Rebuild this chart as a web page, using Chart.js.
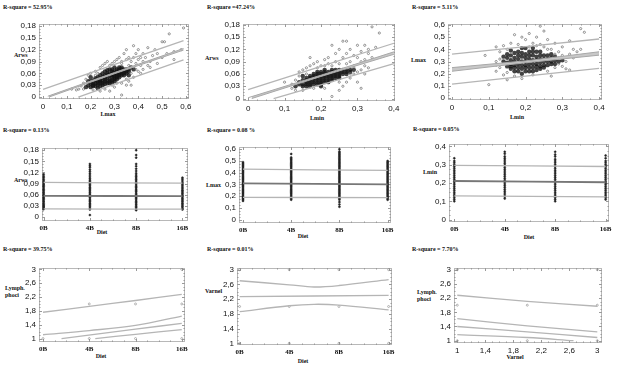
<!DOCTYPE html>
<html>
<head>
<meta charset="utf-8">
<script src="https://cdn.jsdelivr.net/npm/chart.js@4.4.1/dist/chart.umd.min.js"></script>
<style>
  body { margin: 0; background: #fff; width: 628px; height: 374px; position: relative; overflow: hidden; }
  canvas { position: absolute; }
  .t { position: absolute; font: bold 6px "Liberation Serif", serif; color: #111; white-space: nowrap; line-height: 7px; }
  .c { transform: translateX(-50%); }
</style>
</head>
<body>
<div class="t" style="left:3px;top:4px">R-square = 52.95%</div>
<div class="t" style="left:207px;top:4px">R-square =47.24%</div>
<div class="t" style="left:412px;top:4px">R-square = 5.11%</div>
<div class="t" style="left:3px;top:127px">R-square = 0.13%</div>
<div class="t" style="left:207px;top:127px">R-square = 0.08 %</div>
<div class="t" style="left:413px;top:126px">R-square = 0.05%</div>
<div class="t" style="left:3px;top:246px">R-square = 39.75%</div>
<div class="t" style="left:207px;top:246px">R-square = 0.01%</div>
<div class="t" style="left:412px;top:246px">R-square = 7.70%</div>

<div class="t" style="left:14px;top:52px">Arws</div>
<div class="t" style="left:205px;top:55px">Arws</div>
<div class="t" style="left:411px;top:57px">Lmax</div>
<div class="t" style="left:14px;top:177px">Arws</div>
<div class="t" style="left:206px;top:182px">Lmax</div>
<div class="t" style="left:423px;top:169px">Lmin</div>
<div class="t" style="left:5px;top:285px">Lymph.<br>phoci</div>
<div class="t" style="left:205px;top:288px">Varnel</div>
<div class="t" style="left:417px;top:289px">Lymph.<br>phoci</div>

<div class="t c" style="left:108px;top:111px">Lmax</div>
<div class="t c" style="left:317px;top:115px">Lmin</div>
<div class="t c" style="left:517px;top:114px">Lmin</div>
<div class="t c" style="left:102px;top:229px">Diet</div>
<div class="t c" style="left:303px;top:233px">Diet</div>
<div class="t c" style="left:529px;top:234px">Diet</div>
<div class="t c" style="left:101px;top:353px">Diet</div>
<div class="t c" style="left:303px;top:358px">Diet</div>
<div class="t c" style="left:515px;top:354px">Varnel</div>

<script>
// ---- data ----
const diets = ['0B', '4B', '8B', '16B'];

// Arws vs Lmax
const p1Core = [[0.19,0.03],[0.2,0.035],[0.21,0.028],[0.21,0.042],[0.22,0.035],[0.22,0.048],[0.23,0.03],[0.23,0.04],[0.24,0.045],[0.24,0.036],[0.25,0.05],[0.25,0.04],[0.25,0.03],[0.26,0.045],[0.26,0.055],[0.27,0.04],[0.27,0.05],[0.27,0.06],[0.28,0.045],[0.28,0.055],[0.28,0.035],[0.29,0.05],[0.29,0.06],[0.29,0.042],[0.3,0.055],[0.3,0.065],[0.3,0.045],[0.31,0.05],[0.31,0.06],[0.31,0.07],[0.32,0.055],[0.32,0.065],[0.33,0.06],[0.33,0.07],[0.34,0.065],[0.34,0.055],[0.35,0.07],[0.36,0.065],[0.2,0.025],[0.23,0.022],[0.26,0.033],[0.24,0.055],[0.27,0.068],[0.29,0.07],[0.32,0.075],
  [0.18,0.025],[0.19,0.04],[0.2,0.05],[0.21,0.035],[0.22,0.028],[0.22,0.042],[0.23,0.05],[0.24,0.028],[0.24,0.04],[0.25,0.035],[0.25,0.06],[0.26,0.04],[0.26,0.05],[0.26,0.065],[0.27,0.035],[0.27,0.055],[0.28,0.04],[0.28,0.06],[0.28,0.07],[0.29,0.037],[0.29,0.055],[0.29,0.065],[0.3,0.04],[0.3,0.05],[0.3,0.06],[0.3,0.075],[0.31,0.045],[0.31,0.055],[0.31,0.065],[0.32,0.05],[0.32,0.06],[0.32,0.07],[0.33,0.055],[0.33,0.065],[0.33,0.075],[0.34,0.06],[0.34,0.07],[0.35,0.06],[0.35,0.065],[0.36,0.07],[0.37,0.075],[0.38,0.07],[0.36,0.055],[0.23,0.035],[0.21,0.03],[0.2,0.04]];
const p1Out = [[0.15,0.02],[0.16,0.028],[0.17,0.035],[0.18,0.045],[0.17,0.02],[0.14,0.018],[0.12,0.02],[0.19,0.055],[0.2,0.06],[0.22,0.065],[0.21,0.018],[0.24,0.075],[0.25,0.08],[0.26,0.085],[0.27,0.09],[0.28,0.08],[0.3,0.09],[0.31,0.095],[0.32,0.1],[0.33,0.085],[0.34,0.11],[0.35,0.12],[0.36,0.1],[0.37,0.09],[0.38,0.13],[0.38,0.1],[0.39,0.085],[0.4,0.095],[0.4,0.12],[0.41,0.08],[0.42,0.11],[0.43,0.1],[0.44,0.125],[0.45,0.09],[0.46,0.105],[0.47,0.12],[0.48,0.085],[0.5,0.14],[0.5,0.1],[0.51,0.14],[0.53,0.16],[0.55,0.115],[0.55,0.095],[0.58,0.12],[0.59,0.175],[0.33,0.005],[0.37,0.03],[0.36,0.04],[0.38,0.05],[0.4,0.065],[0.42,0.07],[0.44,0.08],[0.35,0.045],[0.39,0.07],[0.41,0.06],[0.45,0.075],[0.37,0.06],[0.36,0.08],[0.38,0.075],[0.42,0.09],[0.3,0.025],[0.33,0.035],[0.29,0.03],[0.35,0.03],[0.28,0.015],[0.26,0.02],[0.24,0.015],[0.31,0.035],[0.2,0.045],[0.22,0.055],[0.23,0.06],[0.33,0.09],[0.29,0.085],[0.35,0.095],[0.39,0.11],[0.41,0.1],[0.48,0.11],[0.52,0.11]];
const p1PredHi = [[0,0.0195],[0.59,0.143]];
const p1ConfHi = [[0.02,0.002],[0.3,0.062],[0.59,0.123]];
const p1ConfLo = [[0.025,0],[0.3,0.059],[0.59,0.119]];
const p1PredLo = [[0.148,0],[0.59,0.094]];

// Arws vs Lmin
const p2Core = [[0.14,0.035],[0.15,0.03],[0.15,0.045],[0.16,0.04],[0.16,0.05],[0.17,0.035],[0.17,0.045],[0.18,0.04],[0.18,0.05],[0.18,0.06],[0.19,0.045],[0.19,0.055],[0.19,0.035],[0.2,0.05],[0.2,0.06],[0.2,0.04],[0.21,0.045],[0.21,0.055],[0.21,0.065],[0.22,0.05],[0.22,0.06],[0.23,0.055],[0.23,0.065],[0.23,0.045],[0.24,0.06],[0.24,0.07],[0.25,0.055],[0.25,0.065],[0.26,0.06],[0.26,0.07],[0.17,0.055],[0.16,0.03],[0.19,0.065],[0.22,0.04],[0.2,0.03],[0.27,0.065],[0.28,0.07],[0.15,0.055],[0.24,0.05],
  [0.13,0.03],[0.14,0.04],[0.15,0.035],[0.16,0.045],[0.17,0.04],[0.17,0.05],[0.18,0.035],[0.18,0.045],[0.18,0.055],[0.19,0.04],[0.19,0.05],[0.19,0.06],[0.2,0.035],[0.2,0.045],[0.2,0.055],[0.2,0.065],[0.21,0.04],[0.21,0.05],[0.21,0.06],[0.21,0.07],[0.22,0.045],[0.22,0.055],[0.22,0.065],[0.23,0.05],[0.23,0.06],[0.23,0.07],[0.24,0.055],[0.24,0.065],[0.25,0.05],[0.25,0.06],[0.25,0.07],[0.26,0.065],[0.27,0.06],[0.27,0.07],[0.28,0.065],[0.29,0.07],[0.16,0.035],[0.17,0.03]];
const p2Out = [[0.1,0.04],[0.12,0.025],[0.12,0.035],[0.13,0.045],[0.13,0.02],[0.14,0.055],[0.14,0.065],[0.15,0.07],[0.16,0.075],[0.17,0.1],[0.17,0.08],[0.18,0.085],[0.19,0.09],[0.2,0.08],[0.21,0.095],[0.22,0.1],[0.22,0.085],[0.23,0.13],[0.24,0.09],[0.24,0.11],[0.25,0.12],[0.25,0.085],[0.26,0.14],[0.26,0.1],[0.27,0.11],[0.27,0.14],[0.28,0.09],[0.28,0.12],[0.29,0.105],[0.29,0.08],[0.3,0.1],[0.3,0.13],[0.31,0.115],[0.31,0.09],[0.32,0.095],[0.32,0.13],[0.33,0.11],[0.33,0.12],[0.34,0.175],[0.35,0.125],[0.36,0.16],[0.34,0.1],[0.23,0.005],[0.25,0.02],[0.27,0.04],[0.28,0.05],[0.29,0.06],[0.3,0.065],[0.3,0.04],[0.31,0.025],[0.26,0.03],[0.27,0.085],[0.29,0.075],[0.31,0.07],[0.32,0.08],[0.33,0.075],[0.21,0.025],[0.18,0.025],[0.16,0.06],[0.19,0.075],[0.21,0.08],[0.23,0.08],[0.25,0.04],[0.28,0.06],[0.32,0.06],[0.15,0.02]];
const p2PredHi = [[0,0.022],[0.4,0.135]];
const p2ConfHi = [[0,0.002],[0.2,0.057],[0.4,0.114]];
const p2ConfLo = [[0.01,0],[0.2,0.054],[0.4,0.108]];
const p2PredLo = [[0.07,0],[0.4,0.085]];

// Lmax vs Lmin
const p3Core = [[0.14,0.3],[0.15,0.26],[0.15,0.33],[0.16,0.28],[0.16,0.35],[0.17,0.22],[0.17,0.3],[0.18,0.25],[0.18,0.32],[0.18,0.38],[0.19,0.27],[0.19,0.34],[0.2,0.22],[0.2,0.3],[0.2,0.36],[0.21,0.25],[0.21,0.32],[0.22,0.28],[0.22,0.35],[0.22,0.22],[0.23,0.26],[0.23,0.31],[0.24,0.29],[0.24,0.35],[0.25,0.27],[0.25,0.32],[0.26,0.3],[0.26,0.35],[0.27,0.28],[0.27,0.33],[0.16,0.24],[0.19,0.2],[0.21,0.38],[0.23,0.38],[0.28,0.31],[0.24,0.24],[0.17,0.37],[0.14,0.34],[0.2,0.41],
  [0.15,0.29],[0.15,0.36],[0.16,0.31],[0.16,0.26],[0.17,0.27],[0.17,0.33],[0.17,0.25],[0.18,0.28],[0.18,0.35],[0.18,0.22],[0.19,0.24],[0.19,0.3],[0.19,0.37],[0.2,0.25],[0.2,0.27],[0.2,0.33],[0.21,0.22],[0.21,0.28],[0.21,0.35],[0.22,0.25],[0.22,0.31],[0.22,0.38],[0.23,0.23],[0.23,0.28],[0.23,0.34],[0.24,0.26],[0.24,0.32],[0.24,0.38],[0.25,0.25],[0.25,0.3],[0.25,0.35],[0.26,0.27],[0.26,0.32],[0.27,0.3],[0.27,0.36],[0.28,0.28],[0.28,0.34],[0.29,0.3],[0.3,0.31],[0.16,0.39],[0.19,0.41],[0.22,0.41]];
const p3Out = [[0.1,0.11],[0.09,0.35],[0.12,0.22],[0.12,0.3],[0.12,0.42],[0.13,0.25],[0.13,0.38],[0.14,0.43],[0.14,0.19],[0.15,0.4],[0.15,0.15],[0.16,0.45],[0.17,0.52],[0.17,0.18],[0.18,0.44],[0.19,0.5],[0.19,0.16],[0.2,0.48],[0.21,0.42],[0.21,0.53],[0.22,0.45],[0.22,0.19],[0.23,0.5],[0.24,0.59],[0.24,0.44],[0.25,0.55],[0.25,0.42],[0.26,0.48],[0.26,0.22],[0.27,0.18],[0.27,0.4],[0.28,0.45],[0.28,0.25],[0.29,0.38],[0.29,0.28],[0.3,0.35],[0.3,0.42],[0.31,0.24],[0.32,0.23],[0.32,0.47],[0.33,0.33],[0.34,0.38],[0.35,0.4],[0.36,0.54],[0.35,0.57],[0.31,0.3],[0.3,0.26],[0.29,0.33],[0.28,0.36],[0.32,0.36],[0.33,0.4],[0.26,0.4],[0.23,0.43],[0.13,0.32],[0.12,0.27],[0.15,0.21]];
const p3PredHi = [[0,0.36],[0.4,0.485]];
const p3ConfHi = [[0,0.25],[0.2,0.305],[0.4,0.38]];
const p3ConfLo = [[0,0.22],[0.2,0.29],[0.4,0.352]];
const p3PredLo = [[0,0.115],[0.4,0.244]];

// Arws by diet
const p4Cols = [
  [0.021,0.024,0.027,0.03,0.033,0.036,0.04,0.043,0.047,0.05,0.053,0.057,0.06,0.064,0.067,0.071,0.074,0.078,0.082,0.085,0.089,0.093,0.097,0.101,0.106,0.11,0.115],
  [0.005,0.02,0.023,0.027,0.03,0.034,0.037,0.041,0.044,0.048,0.052,0.055,0.059,0.062,0.066,0.07,0.073,0.077,0.08,0.084,0.088,0.091,0.095,0.099,0.103,0.108,0.113,0.118,0.123,0.128,0.134,0.138,0.143],
  [0.018,0.021,0.025,0.028,0.032,0.035,0.039,0.042,0.046,0.05,0.053,0.057,0.06,0.064,0.068,0.071,0.075,0.079,0.082,0.086,0.09,0.093,0.097,0.101,0.105,0.109,0.113,0.118,0.124,0.13,0.137,0.143,0.16,0.167,0.18],
  [0.02,0.023,0.027,0.03,0.034,0.037,0.041,0.044,0.048,0.051,0.055,0.058,0.062,0.065,0.069,0.072,0.076,0.08,0.084,0.088,0.092,0.097,0.102,0.106]
];
const p4Mean = [[0,0.057],[3,0.056]];
const p4Hi = [[0,0.093],[3,0.091]];
const p4Lo = [[0,0.0215],[3,0.021]];

// Lmax by diet
const p5Cols = [
  [0.16,0.17,0.18,0.19,0.2,0.21,0.22,0.23,0.24,0.25,0.26,0.27,0.28,0.29,0.3,0.31,0.32,0.33,0.34,0.35,0.36,0.37,0.38,0.39,0.4,0.41,0.42,0.43,0.44,0.45,0.46,0.47,0.48,0.49],
  [0.17,0.18,0.19,0.2,0.21,0.22,0.23,0.24,0.25,0.26,0.27,0.28,0.29,0.3,0.31,0.32,0.33,0.34,0.35,0.36,0.37,0.38,0.39,0.4,0.41,0.42,0.43,0.44,0.45,0.46,0.47,0.48,0.49,0.5,0.51,0.52,0.53,0.56],
  [0.11,0.13,0.15,0.17,0.18,0.19,0.2,0.21,0.22,0.23,0.24,0.25,0.26,0.27,0.28,0.29,0.3,0.31,0.32,0.33,0.34,0.35,0.36,0.37,0.38,0.39,0.4,0.41,0.42,0.43,0.44,0.45,0.46,0.47,0.48,0.49,0.5,0.51,0.52,0.53,0.54,0.55,0.56,0.57,0.58,0.6],
  [0.17,0.18,0.19,0.2,0.21,0.22,0.23,0.24,0.25,0.26,0.27,0.28,0.29,0.3,0.31,0.32,0.33,0.34,0.35,0.36,0.37,0.38,0.39,0.4,0.41,0.42,0.43,0.44,0.45,0.46,0.47,0.48,0.49,0.5]
];
const p5Mean = [[0,0.31],[3,0.30]];
const p5Hi = [[0,0.43],[3,0.42]];
const p5Lo = [[0,0.19],[3,0.188]];

// Lmin by diet
const p6Cols = [
  [0.1,0.11,0.12,0.13,0.14,0.15,0.16,0.17,0.18,0.19,0.2,0.21,0.22,0.23,0.24,0.25,0.26,0.27,0.28,0.29,0.3,0.31,0.32,0.335],
  [0.115,0.125,0.135,0.145,0.155,0.165,0.175,0.185,0.195,0.205,0.215,0.225,0.235,0.245,0.255,0.265,0.275,0.285,0.295,0.305,0.315,0.325,0.335,0.345,0.36,0.37],
  [0.1,0.11,0.12,0.13,0.14,0.15,0.16,0.17,0.18,0.19,0.2,0.21,0.22,0.23,0.24,0.25,0.26,0.27,0.28,0.29,0.3,0.31,0.32,0.33,0.345,0.355,0.37],
  [0.11,0.12,0.13,0.14,0.15,0.16,0.17,0.18,0.19,0.2,0.21,0.22,0.23,0.24,0.25,0.26,0.27,0.28,0.29,0.3,0.31,0.32,0.335,0.35]
];
const p6Mean = [[0,0.211],[3,0.204]];
const p6Hi = [[0,0.296],[3,0.29]];
const p6Lo = [[0,0.13],[3,0.124]];

// Lymphoci by diet
const p7Pts = [[0,1],[1,1],[1,2],[2,1],[2,2],[3,1],[3,2],[3,3]];
const p7PredHi = [[0,1.76],[1,1.93],[2,2.1],[3,2.28]];
const p7ConfHi = [[0,1.11],[1,1.23],[2,1.38],[3,1.65]];
const p7Fit = [[0.4,1.0],[2,1.27],[3,1.44]];
const p7ConfLo = [[1.13,1.0],[2,1.12],[3,1.26]];

// Varnel by diet
const p8Pts = [[0,1],[1,1],[2,1],[3,1],[0,2],[1,2],[2,2],[3,2],[0,3],[1,3],[2,3],[3,3]];
const p8Hi = [[0,2.7],[1,2.59],[1.5,2.53],[2,2.57],[3,2.73]];
const p8Fit = [[0,2.27],[3,2.3]];
const p8Lo = [[0,1.86],[1,2.02],[1.5,2.06],[2,2.04],[3,1.91]];

// Lymphoci vs Varnel
const p9Pts = [[1,1],[2,1],[3,1],[1,2],[2,2],[3,2],[1,3],[3,3]];
const p9PredHi = [[1,2.28],[2,2.11],[3,1.97]];
const p9ConfHi = [[1,1.62],[2,1.42],[3,1.25]];
const p9Fit = [[1,1.4],[2,1.25],[3,1.09]];
const p9ConfLo = [[1,1.17],[2,1.09],[2.66,1.0]];

const ticksA = [0, 0.03, 0.06, 0.09, 0.12, 0.15, 0.18];
const ticks06 = [0, 0.1, 0.2, 0.3, 0.4, 0.5, 0.6];
const ticks04 = [0, 0.1, 0.2, 0.3, 0.4];
const ticks13 = [1, 1.4, 1.8, 2.2, 2.6, 3];
const ticksDiet = [0, 1, 2, 3];

// ---- helpers ----
const xy = a => a.map(p => ({x: p[0], y: p[1]}));
const cols = c => c.flatMap((ys, i) => ys.map(y => ({x: i, y})));
const comma = v => String(v).replace('.', ',');

const framePlugin = {
  id: 'frame',
  beforeDatasetsDraw(chart) {
    const {ctx, chartArea: a, scales} = chart;
    ctx.save();
    ctx.strokeStyle = '#b8b8b8';
    ctx.lineWidth = 1;
    ctx.strokeRect(a.left + 0.5, a.top + 0.5, a.width - 1, a.height - 1);
    ctx.strokeStyle = '#9a9a9a';
    ctx.beginPath();
    const marks = s => {
      const out = [];
      const t = s.ticks.map(k => k.value);
      for (let i = 0; i < t.length; i++) {
        out.push([t[i], 3]);
        if (i < t.length - 1) for (let k = 1; k < 4; k++) out.push([t[i] + (t[i + 1] - t[i]) * k / 4, 1.5]);
      }
      return out;
    };
    marks(scales.x).forEach(([v, len]) => {
      const px = Math.round(scales.x.getPixelForValue(v)) + 0.5;
      ctx.moveTo(px, a.top); ctx.lineTo(px, a.top + len);
      ctx.moveTo(px, a.bottom); ctx.lineTo(px, a.bottom - len);
    });
    marks(scales.y).forEach(([v, len]) => {
      const py = Math.round(scales.y.getPixelForValue(v)) + 0.5;
      ctx.moveTo(a.left, py); ctx.lineTo(a.left + len, py);
      ctx.moveTo(a.right, py); ctx.lineTo(a.right - len, py);
    });
    ctx.stroke();
    ctx.restore();
  }
};

const sans = {family: 'Liberation Sans', size: 8};
const serifB = {family: 'Liberation Serif', size: 7, weight: 'bold'};

function axis(a, size, horiz) {
  return {
    type: 'linear', min: a.min, max: a.max,
    afterBuildTicks: s => { s.ticks = a.ticks.map(v => ({value: v})); },
    afterFit: s => {
      if (horiz) s.height = size; else s.width = size;
      s.paddingLeft = s.paddingRight = s.paddingTop = s.paddingBottom = 0;
    },
    grid: {display: false, drawTicks: false},
    border: {display: false},
    ticks: {
      padding: 3, color: '#111', autoSkip: false, maxRotation: 0,
      font: a.labels ? serifB : sans,
      callback: a.labels ? ((v, i) => a.labels[i]) : comma
    }
  };
}

function panel(box, x, y, datasets) {
  const ML = 32, MT = 6, MR = 12, MB = 14;
  const w = box[2] - box[0] + ML + MR, h = box[3] - box[1] + MT + MB;
  const c = document.createElement('canvas');
  c.width = w; c.height = h;
  c.style.left = (box[0] - ML) + 'px';
  c.style.top = (box[1] - MT) + 'px';
  c.style.width = w + 'px'; c.style.height = h + 'px';
  document.body.appendChild(c);
  new Chart(c, {
    type: 'scatter',
    data: {datasets},
    options: {
      responsive: false, animation: false,
      layout: {padding: {left: 0, top: MT, right: MR, bottom: 0}},
      plugins: {legend: {display: false}, tooltip: {enabled: false}},
      scales: {x: axis(x, MB, true), y: axis(y, ML, false)}
    },
    plugins: [framePlugin]
  });
}

const line = (d, color = '#b5b5b5', w = 1.3) => ({type: 'line', data: xy(d), borderColor: color, borderWidth: w, pointRadius: 0, fill: false, tension: 0.35});
const band = (hi, lo) => [
  {type: 'line', data: xy(hi), borderColor: '#a8a8a8', borderWidth: 1, pointRadius: 0, fill: false},
  {type: 'line', data: xy(lo), borderColor: '#a8a8a8', borderWidth: 1, pointRadius: 0, fill: '-1', backgroundColor: '#c8c8c8'}
];
const core = d => ({data: xy(d), pointRadius: 2.2, backgroundColor: 'rgba(20,20,20,0.8)', borderWidth: 0});
const outer = d => ({data: xy(d), pointRadius: 1.1, backgroundColor: 'rgba(0,0,0,0)', borderColor: '#555', borderWidth: 0.6});
const column = c => ({data: cols(c), pointRadius: 1, backgroundColor: '#222', borderColor: '#222', borderWidth: 0.5});
const few = d => ({data: xy(d), pointRadius: 1, backgroundColor: 'rgba(0,0,0,0)', borderColor: '#888', borderWidth: 0.6});

// ---- row 1 ----
panel([39, 24, 189, 99], {min: -0.017, max: 0.613, ticks: ticks06}, {min: -0.005, max: 0.185, ticks: ticksA},
  [line(p1PredHi), line(p1PredLo), ...band(p1ConfHi, p1ConfLo), outer(p1Out), core(p1Core)]);
panel([243, 24, 395, 101], {min: -0.014, max: 0.403, ticks: ticks04}, {min: -0.006, max: 0.182, ticks: ticksA},
  [line(p2PredHi), line(p2PredLo), ...band(p2ConfHi, p2ConfLo), outer(p2Out), core(p2Core)]);
panel([448, 24, 602, 100], {min: -0.011, max: 0.408, ticks: ticks04}, {min: -0.016, max: 0.608, ticks: ticks06},
  [line(p3PredHi), line(p3PredLo), ...band(p3ConfHi, p3ConfLo), outer(p3Out), core(p3Core)]);

// ---- row 2 ----
panel([42, 148, 188, 221], {min: -0.035, max: 3.12, ticks: ticksDiet, labels: diets}, {min: -0.011, max: 0.186, ticks: ticksA},
  [line(p4Mean, '#777', 1.8), line(p4Hi), line(p4Lo), column(p4Cols)]);
panel([239, 147, 391, 223], {min: -0.083, max: 3.07, ticks: ticksDiet, labels: diets}, {min: -0.028, max: 0.619, ticks: ticks06},
  [line(p5Mean, '#777', 1.8), line(p5Hi), line(p5Lo), column(p5Cols)]);
panel([449, 144, 609, 222], {min: -0.105, max: 3.067, ticks: ticksDiet, labels: diets}, {min: -0.013, max: 0.413, ticks: ticks04},
  [line(p6Mean, '#777', 1.8), line(p6Hi), line(p6Lo), column(p6Cols)]);

// ---- row 3 ----
panel([39, 268, 185, 342], {min: -0.087, max: 3.07, ticks: ticksDiet, labels: diets}, {min: 0.9, max: 3.04, ticks: ticks13},
  [line(p7PredHi), line(p7ConfHi), line(p7Fit), line(p7ConfLo), few(p7Pts)]);
panel([237, 268, 392, 345], {min: -0.052, max: 3.068, ticks: ticksDiet, labels: diets}, {min: 0.954, max: 3.046, ticks: ticks13},
  [line(p8Hi), line(p8Fit), line(p8Lo), few(p8Pts)]);
panel([454, 268, 602, 343], {min: 0.953, max: 3.067, ticks: ticks13}, {min: 0.935, max: 3.048, ticks: ticks13},
  [line(p9PredHi), line(p9ConfHi), line(p9Fit), line(p9ConfLo), few(p9Pts)]);
</script>
</body>
</html>
